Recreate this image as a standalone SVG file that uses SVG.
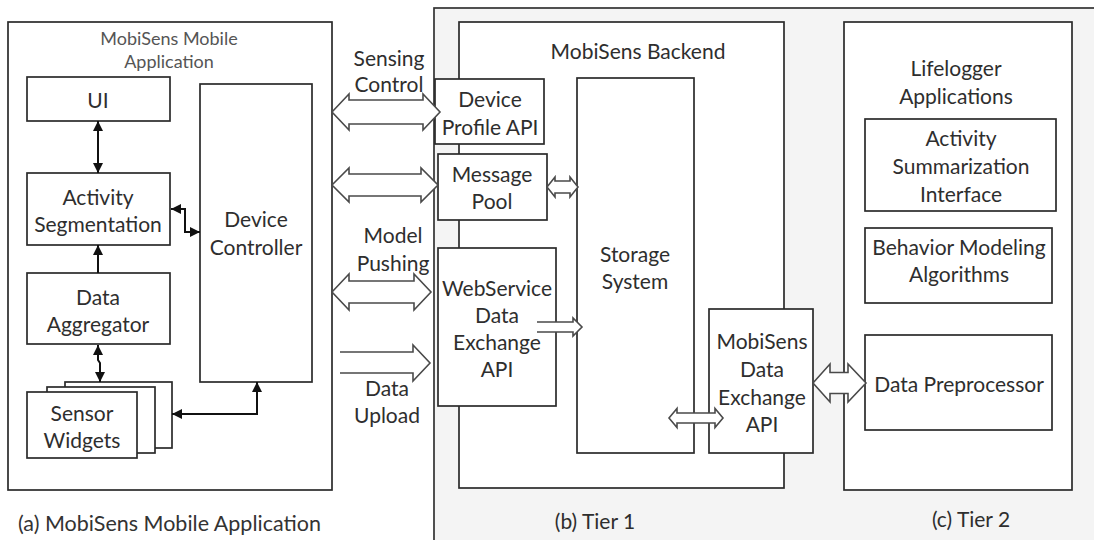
<svg xmlns="http://www.w3.org/2000/svg" width="1094" height="540" viewBox="0 0 1094 540">
<defs>
<style>
.box{fill:#fff;stroke:#2b2b2b;stroke-width:1.7}
.t{font-family:Lato,"Liberation Sans",sans-serif;font-size:21px;fill:#2e2e2e;text-anchor:middle;dominant-baseline:central}
.tg{font-family:Lato,"Liberation Sans",sans-serif;font-size:18px;fill:#555;text-anchor:middle;dominant-baseline:central}
.cap{font-family:Lato,"Liberation Sans",sans-serif;font-size:21.5px;fill:#333;dominant-baseline:central}
.blk{fill:#fff;stroke:#4a4a4a;stroke-width:1.6;stroke-linejoin:miter}
.ln{fill:none;stroke:#111;stroke-width:2;marker-end:url(#ah);marker-start:url(#ah)}
.ln1{fill:none;stroke:#111;stroke-width:2;marker-end:url(#ah)}
</style>
<marker id="ah" viewBox="0 0 10 10" refX="10" refY="5" markerWidth="10" markerHeight="10" markerUnits="userSpaceOnUse" orient="auto-start-reverse">
<path d="M0,0 L10,5 L0,10 z" fill="#111"/>
</marker>
</defs>
<rect width="1094" height="540" fill="#fff"/>
<!-- Tier 1 / Tier 2 gray panel -->
<rect x="434" y="8" width="680" height="560" fill="#f4f4f4" stroke="#333" stroke-width="1.7"/>

<!-- (a) Mobile application -->
<g id="mobile-app">
<rect class="box" x="8" y="22" width="324" height="468"/>
<text class="tg" x="169" y="38">MobiSens Mobile</text>
<text class="tg" x="169" y="61">Application</text>
</g>
<g id="ui"><rect class="box" x="27" y="77" width="143" height="44"/><text class="t" x="98" y="99">UI</text></g>
<g id="activity-seg"><rect class="box" x="27" y="173" width="143" height="72"/><text class="t" x="98" y="196">Activity</text><text class="t" x="98" y="223">Segmentation</text></g>
<g id="data-agg"><rect class="box" x="27" y="273" width="143" height="71"/><text class="t" x="98" y="296">Data</text><text class="t" x="98" y="323">Aggregator</text></g>
<g id="device-ctrl"><rect class="box" x="200" y="84" width="112" height="298"/><text class="t" x="256" y="218">Device</text><text class="t" x="256" y="246">Controller</text></g>
<g id="sensor-widgets">
<rect class="box" x="65" y="382" width="107" height="66"/>
<rect class="box" x="47" y="387" width="108" height="66"/>
<rect class="box" x="27" y="392" width="110" height="66"/>
<text class="t" x="82" y="412">Sensor</text><text class="t" x="82" y="439">Widgets</text>
</g>

<!-- (b) Tier 1 -->
<g id="backend">
<rect class="box" x="459" y="22" width="325" height="466"/>
<text class="t" x="638" y="50">MobiSens Backend</text>
</g>
<g id="device-profile"><rect class="box" x="435" y="79" width="109" height="65"/><text class="t" x="490" y="98">Device</text><text class="t" x="490" y="126">Profile API</text></g>
<g id="message-pool"><rect class="box" x="438" y="154" width="109" height="66"/><text class="t" x="492" y="173">Message</text><text class="t" x="492" y="200">Pool</text></g>
<g id="webservice"><rect class="box" x="438" y="248" width="118" height="158"/><text class="t" x="497" y="287">WebService</text><text class="t" x="497" y="314">Data</text><text class="t" x="497" y="341">Exchange</text><text class="t" x="497" y="368">API</text></g>
<g id="storage"><rect class="box" x="577" y="78" width="117" height="375"/><text class="t" x="635" y="253">Storage</text><text class="t" x="635" y="280">System</text></g>
<g id="mobisens-api"><rect class="box" x="709" y="309" width="104" height="144"/><text class="t" x="762" y="340">MobiSens</text><text class="t" x="762" y="368">Data</text><text class="t" x="762" y="396">Exchange</text><text class="t" x="762" y="423">API</text></g>

<!-- (c) Tier 2 -->
<g id="lifelogger">
<rect class="box" x="844" y="22" width="228" height="468"/>
<text class="t" x="956" y="67">Lifelogger</text>
<text class="t" x="956" y="95">Applications</text>
</g>
<g id="activity-summ"><rect class="box" x="865" y="119" width="191" height="92"/><text class="t" x="961" y="137">Activity</text><text class="t" x="961" y="165">Summarization</text><text class="t" x="961" y="193">Interface</text></g>
<g id="behavior"><rect class="box" x="865" y="228" width="187" height="75"/><text class="t" x="959" y="246">Behavior Modeling</text><text class="t" x="959" y="273">Algorithms</text></g>
<g id="preprocessor"><rect class="box" x="865" y="335" width="187" height="95"/><text class="t" x="959" y="383">Data Preprocessor</text></g>

<!-- connectors -->
<g id="connectors">
<line class="ln" x1="98" y1="121" x2="98" y2="173"/>
<line class="ln1" x1="98" y1="273" x2="98" y2="245"/>
<path class="ln" d="M171,209 H185 V232 H200"/>
<path class="ln" d="M98,345 V360 L100,363 V382"/>
<path class="ln" d="M172,414 H257 V382"/>

<polygon class="blk" points="332,112 349,94 349,100 423,100 423,94 440,112 423,130 423,124 349,124 349,130"/>
<polygon class="blk" points="332,185 349,168 349,174 421,174 421,168 438,185 421,202 421,196 349,196 349,202"/>
<polygon class="blk" points="332,292 349,274 349,281 414,281 414,274 431,292 414,310 414,303 349,303 349,310"/>
<polyline class="blk" points="340,352 413,352 413,345 430,363 413,381 413,373 340,373"/>
<polyline class="blk" points="537,322 573,322 573,318 582,327 573,336 573,332 537,332"/>
<polygon class="blk" points="547,187 555,177 555,181 570,181 570,177 578,187 570,197 570,193 555,193 555,197"/>
<polygon class="blk" points="669,418 677,408.5 677,413 715,413 715,408.5 723,418 715,427.5 715,423 677,423 677,427.5"/>
<polygon class="blk" points="813,383 830,364 830,372.5 848,372.5 848,364 866,383 848,402 848,393.5 830,393.5 830,402"/>
</g>

<!-- labels -->
<text class="t" x="389" y="57">Sensing</text>
<text class="t" x="389" y="83">Control</text>
<text class="t" x="393" y="234">Model</text>
<text class="t" x="393" y="262">Pushing</text>
<text class="t" x="387" y="387">Data</text>
<text class="t" x="387" y="414">Upload</text>
<text class="cap" x="18" y="523">(a) MobiSens Mobile Application</text>
<text class="t" x="595" y="520">(b) Tier 1</text>
<text class="t" x="971" y="518">(c) Tier 2</text>
</svg>
